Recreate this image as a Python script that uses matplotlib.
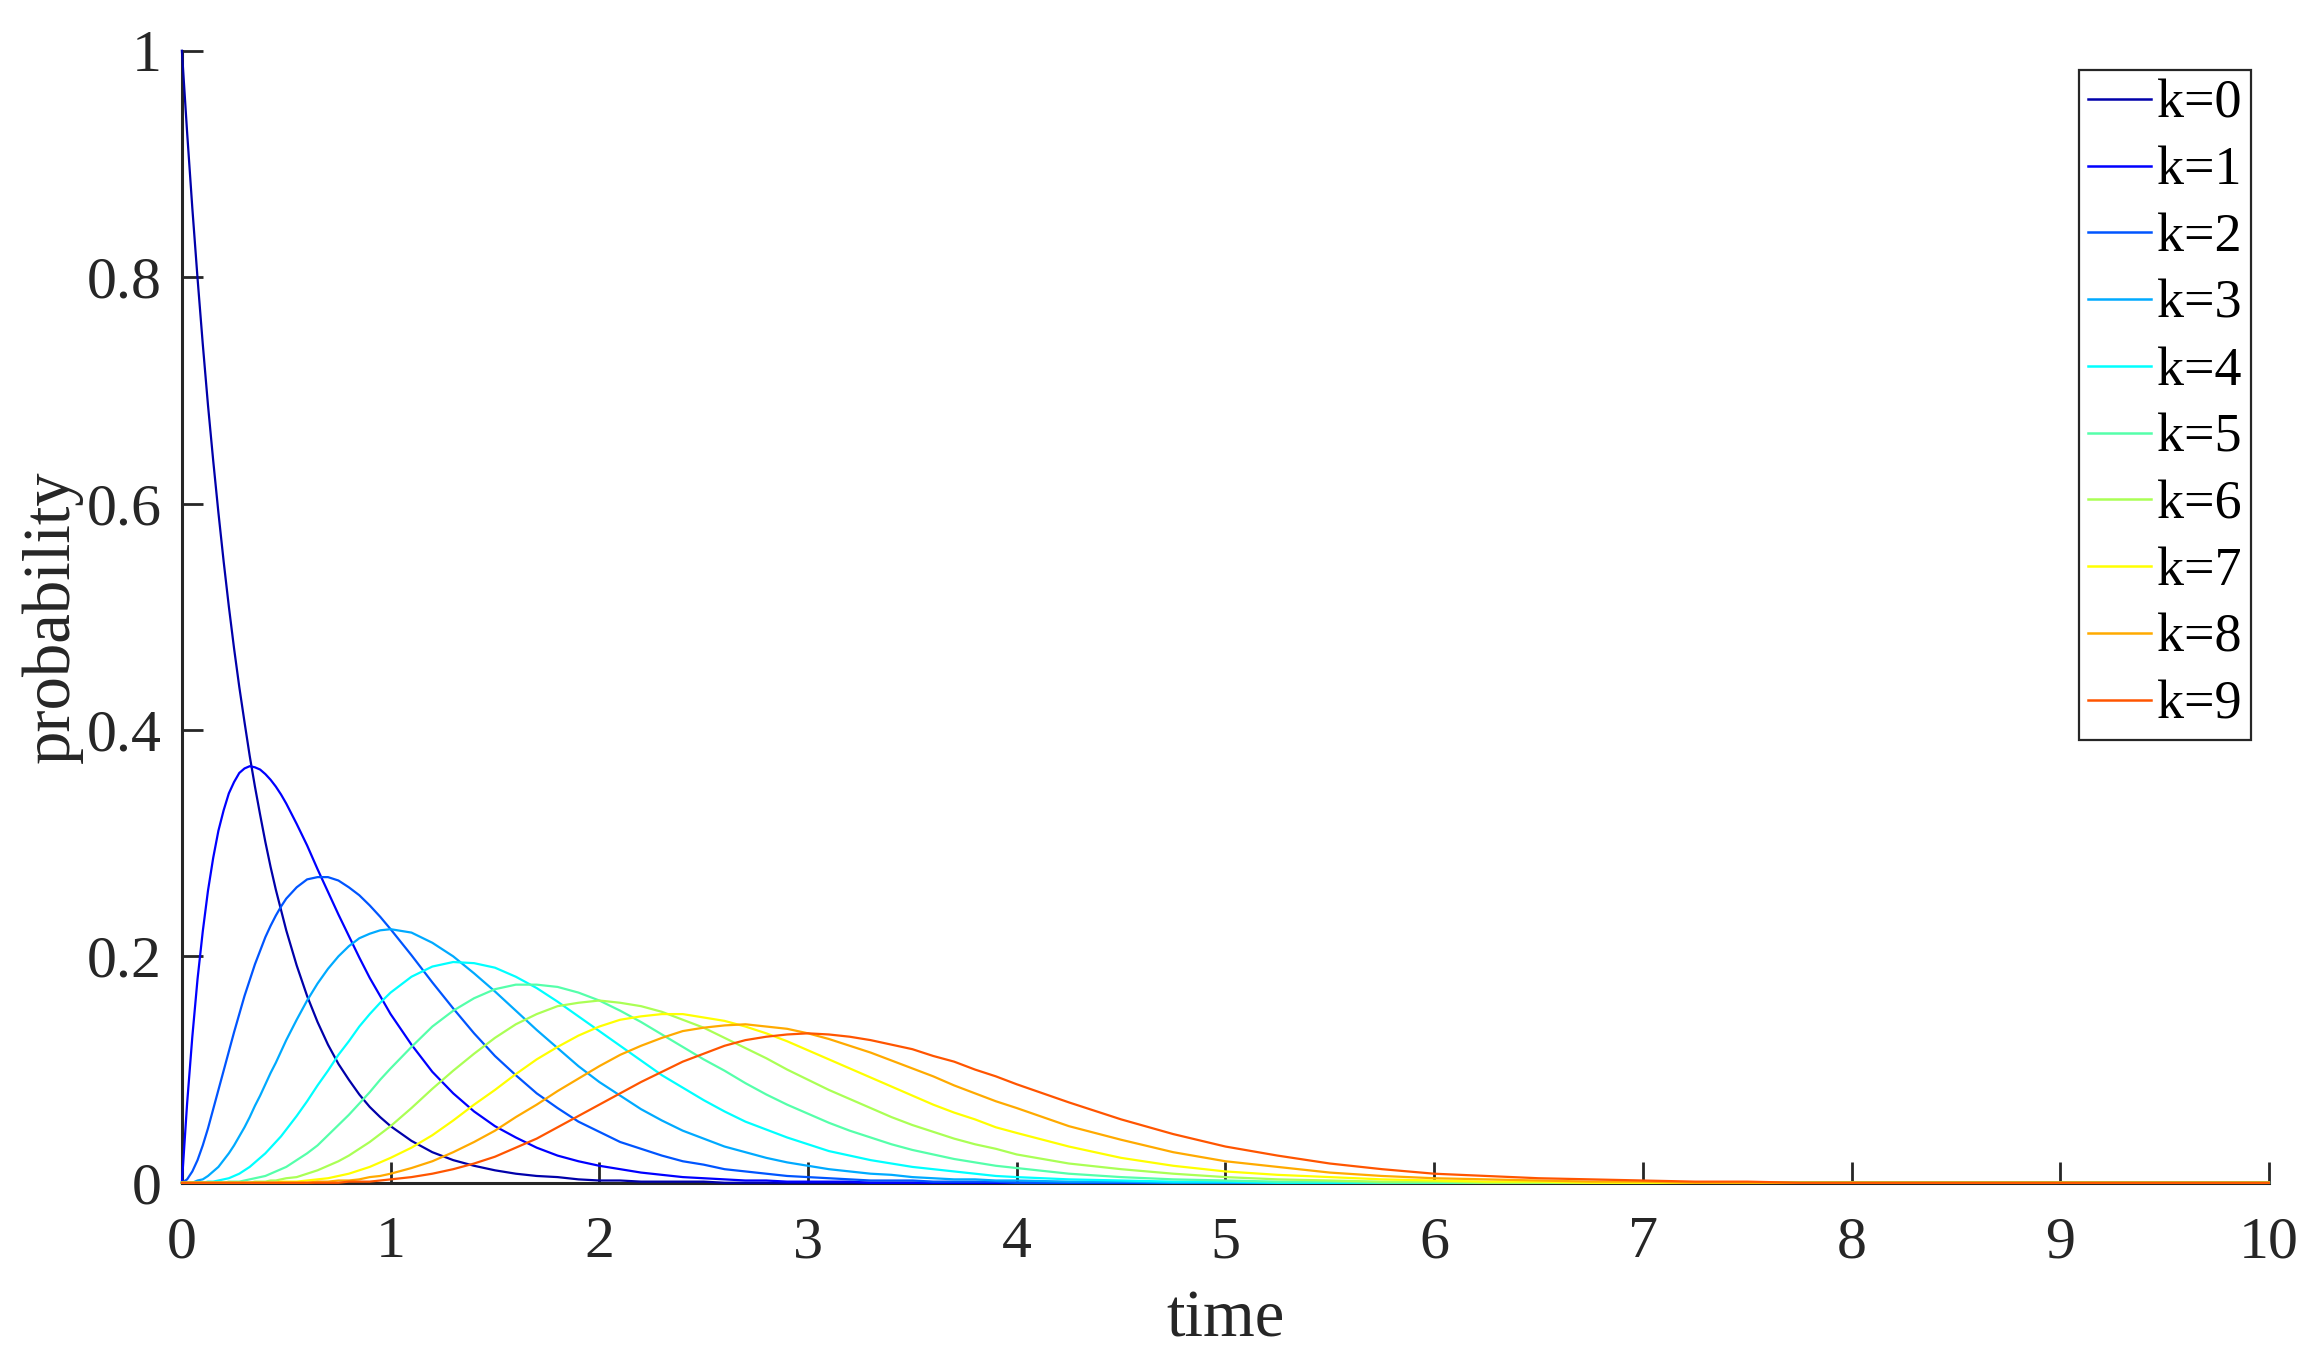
import numpy as np
import matplotlib
matplotlib.use('Agg')
import matplotlib.pyplot as plt

# time samples (same for every curve)
time = [0, 0.025, 0.05, 0.075, 0.1, 0.125, 0.15, 0.175, 0.2, 0.225, 0.25, 0.275, 0.3,
        0.325, 0.35, 0.375, 0.4, 0.425, 0.45, 0.475, 0.5, 0.55, 0.6, 0.65, 0.7, 0.75,
        0.8, 0.85, 0.9, 0.95, 1.0, 1.1, 1.2, 1.3, 1.4, 1.5, 1.6, 1.7, 1.8, 1.9, 2.0,
        2.1, 2.2, 2.3, 2.4, 2.5, 2.6, 2.7, 2.8, 2.9, 3.0, 3.1,
        3.2, 3.3, 3.4, 3.5, 3.6, 3.7, 3.8, 3.9, 4.0, 4.25, 4.5, 4.75, 5.0, 5.25, 5.5,
        5.75, 6.0, 6.25, 6.5, 6.75, 7.0, 7.25, 7.5, 7.75, 8.0, 10.0]

# probabilities, in thousandths
k0 = [1000, 928, 861, 799, 741, 687, 638, 592, 549, 509, 472, 438, 407, 377, 350, 325, 301,
      279, 259, 241, 223, 192, 165, 142, 122, 105,
      91, 78, 67, 58, 50, 37, 27, 20, 15, 11, 8, 6, 5, 3, 2, 2, 1, 1, 1, 1, 0, 0, 0, 0, 0, 0,
      0, 0, 0, 0, 0, 0, 0, 0, 0, 0, 0, 0, 0, 0, 0, 0, 0, 0, 0, 0, 0, 0, 0, 0, 0, 0]
k1 = [0, 70, 129, 180, 222, 258, 287, 311, 329, 344, 354, 362, 366, 368, 367, 365, 361,
      356, 350, 343, 335, 317, 298, 277, 257, 237,
      218, 199, 181, 165, 149, 122, 98, 79, 63, 50, 40, 31, 24, 19, 15, 12, 9, 7, 5, 4, 3,
      2, 2, 1, 1, 1,
      1, 0, 0, 0, 0, 0, 0, 0, 0, 0, 0, 0, 0, 0, 0, 0, 0, 0, 0, 0, 0, 0, 0, 0, 0, 0]
k2 = [0, 3, 10, 20, 33, 48, 65, 82, 99, 116, 133, 149, 165, 179, 193, 205, 217, 227, 236,
      244, 251, 261, 268, 270, 270, 267,
      261, 254, 245, 235, 224, 201, 177, 154, 132, 112, 95, 79, 66, 54, 45, 36, 30, 24, 19,
      16, 12, 10, 8, 6, 5, 4,
      3, 2, 2, 2, 1, 1, 1, 1, 0, 0, 0, 0, 0, 0, 0, 0, 0, 0, 0, 0, 0, 0, 0, 0, 0, 0]
k3 = [0, 0, 0, 2, 3, 6, 10, 14, 20, 26, 33, 41, 49, 58, 68, 77, 87, 97, 106, 116, 126, 144,
      161, 176, 189, 200,
      209, 216, 220, 223, 224, 221, 212, 200, 185, 169, 152, 135, 119, 103, 89, 77, 65, 55,
      46, 39, 32, 27, 22, 18, 15, 12,
      10, 8, 7, 5, 4, 3, 3, 2, 2, 1, 1, 0, 0, 0, 0, 0, 0, 0, 0, 0, 0, 0, 0, 0, 0, 0]
k4 = [0, 0, 0, 0, 0, 1, 1, 2, 3, 4, 6, 8, 11, 14, 18, 22, 26, 31, 36, 41, 47, 59, 72, 86,
      99, 113,
      125, 138, 149, 159, 168, 182, 191, 195, 194, 190, 182, 172, 160, 147, 134, 121, 108,
      95, 84, 73, 63, 54, 47, 40, 34, 28,
      24, 20, 17, 14, 12, 10, 8, 6, 5, 3, 2, 1, 1, 0, 0, 0, 0, 0, 0, 0, 0, 0, 0, 0, 0, 0]
k5 = [0, 0, 0, 0, 0, 0, 0, 0, 0, 1, 1, 1, 2, 3, 4, 5, 6, 8, 10, 12, 14, 20, 26, 33, 42, 51,
      60, 70, 80, 91, 101, 120, 138, 152, 163, 171, 175, 175, 173, 168, 161, 152, 142, 131,
      120, 109, 99, 88, 78, 69, 61, 53,
      46, 40, 34, 29, 25, 21, 18, 15, 13, 8, 5, 3, 2, 1, 1, 0, 0, 0, 0, 0, 0, 0, 0, 0, 0, 0]
k6 = [0, 0, 0, 0, 0, 0, 0, 0, 0, 0, 0, 0, 0, 0, 1, 1, 1, 2, 2, 3, 4, 5, 8, 11, 15, 19,
      24, 30, 36, 43, 50, 66, 83, 99, 114, 128, 140, 149, 156, 159, 161, 159, 156, 151, 144,
      137, 128, 119, 110, 100, 91, 82,
      74, 66, 58, 51, 45, 39, 34, 30, 25, 17, 12, 8, 5, 3, 2, 1, 1, 0, 0, 0, 0, 0, 0, 0, 0, 0]
k7 = [0, 0, 0, 0, 0, 0, 0, 0, 0, 0, 0, 0, 0, 0, 0, 0, 0, 0, 0, 1, 1, 1, 2, 3, 4, 6,
      8, 11, 14, 18, 22, 31, 42, 55, 69, 82, 96, 109, 120, 130, 138, 144, 147, 149, 149,
      146, 143, 138, 132, 125, 117, 109,
      101, 93, 85, 77, 69, 62, 56, 49, 44, 32, 22, 15, 10, 7, 5, 3, 2, 1, 1, 0, 0, 0, 0, 0,
      0, 0]
k8 = [0, 0, 0, 0, 0, 0, 0, 0, 0, 0, 0, 0, 0, 0, 0, 0, 0, 0, 0, 0, 0, 0, 0, 1, 1, 2,
      2, 3, 5, 6, 8, 13, 19, 27, 36, 46, 58, 69, 81, 92, 103, 113, 121, 128, 134, 137, 139,
      140, 138, 136, 132, 127,
      121, 115, 108, 101, 94, 86, 79, 72, 66, 50, 38, 27, 19, 14, 9, 6, 4, 3, 2, 1, 1, 0, 0,
      0, 0, 0]
k9 = [0, 0, 0, 0, 0, 0, 0, 0, 0, 0, 0, 0, 0, 0, 0, 0, 0, 0, 0, 0, 0, 0, 0, 0, 0, 0,
      1, 1, 1, 2, 3, 5, 8, 12, 17, 23, 31, 39, 49, 59, 69, 79, 89, 98, 107, 114, 121, 126,
      129, 131, 132, 131,
      129, 126, 122, 118, 112, 107, 100, 94, 87, 71, 56, 43, 32, 24, 17, 12, 8, 6, 4, 3, 2,
      1, 1, 0, 0, 0]

curves = [k0, k1, k2, k3, k4, k5, k6, k7, k8, k9]
labels = ['k=%d' % i for i in range(10)]
colors = [(0, 0, 0.667), (0, 0, 1), (0, 0.333, 1), (0, 0.667, 1), (0, 1, 1),
          (0.333, 1, 0.667), (0.667, 1, 0.333), (1, 1, 0), (1, 0.667, 0), (1, 0.333, 0)]

plt.rcParams['font.family'] = ['Liberation Serif', 'DejaVu Serif']
dark = '#262626'

fig = plt.figure(figsize=(11.6, 6.785), dpi=200)
ax = fig.add_axes([0.0784, 0.1284, 0.8996, 0.8342])

t = np.array(time)
for vals, lab, col in zip(curves, labels, colors):
    ax.plot(t, np.array(vals) / 1000.0, color=col, lw=0.8, label=lab, clip_on=False, zorder=3)

ax.set_xlim(0, 10)
ax.set_ylim(0, 1)
ax.set_xticks(range(11))
ax.set_yticks([0, 0.2, 0.4, 0.6, 0.8, 1])
ax.set_yticklabels(['0', '0.2', '0.4', '0.6', '0.8', '1'])
ax.spines['top'].set_visible(False)
ax.spines['right'].set_visible(False)
for s in ['left', 'bottom']:
    ax.spines[s].set_color(dark)
    ax.spines[s].set_linewidth(1.1)
ax.tick_params(axis='both', direction='in', length=7.7, width=1.0, color=dark,
               labelcolor=dark, labelsize=21.6)
ax.tick_params(axis='y', pad=7.2)
ax.tick_params(axis='x', pad=12)

ax.set_xlabel('time', fontsize=24, color=dark)
ax.set_ylabel('probability', fontsize=24, color=dark)
ax.xaxis.set_label_coords(0.5, -0.094)
ax.yaxis.set_label_coords(-0.0474, 0.5)

leg = ax.legend(loc='upper right', bbox_to_anchor=(0.9703, 0.9484),
                bbox_transform=fig.transFigure, borderaxespad=0, borderpad=0.17,
                handlelength=1.15, handletextpad=0.12, labelspacing=0.3,
                fancybox=False, framealpha=1, prop={'size': 19.5})
leg.get_frame().set_edgecolor(dark)
leg.get_frame().set_linewidth(0.8)
for line in leg.get_lines():
    line.set_linewidth(0.9)

fig.savefig('out.png')
